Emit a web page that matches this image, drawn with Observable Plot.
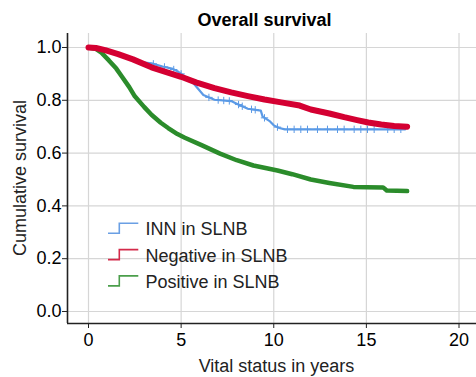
<!DOCTYPE html>
<html>
<head>
<meta charset="utf-8">
<script src="https://cdn.jsdelivr.net/npm/d3@7"></script>
<script src="https://cdn.jsdelivr.net/npm/@observablehq/plot@0.6"></script>
<style>
  html, body { margin: 0; padding: 0; background: #fff; }
</style>
</head>
<body>
<div id="chart"></div>
<script>
// ---- Data ----
const groups = ["INN in SLNB", "Negative in SLNB", "Positive in SLNB"];
const colors = ["#5b9ae6", "#d40032", "#2b8c2b"];
const legendColors = ["#6a9fe4", "#d42a4a", "#4b9e4b"];

const innTime = [0, 0.5, 1.2, 2.0, 2.8, 3.4, 4.0, 4.5, 4.8, 5.2, 5.7, 6.2, 6.8, 7.7, 8.0, 8.6, 9.3, 9.4, 9.8, 10.0, 10.3, 10.6, 17.1];
const innSurv = [1.0, 0.998, 0.983, 0.965, 0.945, 0.94, 0.928, 0.92, 0.91, 0.89, 0.862, 0.82, 0.802, 0.797, 0.787, 0.768, 0.761, 0.738, 0.72, 0.705, 0.695, 0.69, 0.69];
const innCensor = [3.5, 4.1, 4.6, 5.0, 6.5, 7.0, 7.3, 7.6, 8.1, 8.3, 8.8, 9.0, 9.5, 10.2, 10.74, 11.1, 11.46, 11.82, 12.36, 12.9, 13.44, 13.8, 14.34, 14.7, 15.06, 15.42, 16.15, 16.5, 16.86];

const negTime = [0, 0.4, 0.9, 1.6, 2.4, 3.4, 4.2, 5.0, 5.8, 6.8, 7.7, 8.6, 9.5, 10.4, 11.4, 12.0, 13.0, 13.8, 14.5, 15.1, 15.8, 16.5, 17.2];
const negSurv = [1.0, 0.998, 0.99, 0.975, 0.955, 0.925, 0.907, 0.889, 0.868, 0.846, 0.83, 0.816, 0.803, 0.792, 0.78, 0.765, 0.75, 0.736, 0.725, 0.716, 0.708, 0.703, 0.70];

const posTime = [0, 0.4, 0.7, 1.1, 1.5, 1.8, 2.2, 2.5, 3.0, 3.4, 3.9, 4.3, 4.8, 5.2, 6.1, 7.1, 8.0, 8.9, 10.2, 11.0, 12.0, 13.0, 14.3, 15.0, 15.9, 16.1, 17.2];
const posSurv = [1.0, 0.995, 0.98, 0.951, 0.92, 0.89, 0.85, 0.815, 0.775, 0.745, 0.715, 0.695, 0.672, 0.658, 0.63, 0.598, 0.573, 0.553, 0.534, 0.52, 0.50, 0.487, 0.472, 0.471, 0.47, 0.458, 0.456];

const xTicks = [0, 5, 10, 15, 20];
const yTicks = [0, 0.2, 0.4, 0.6, 0.8, 1.0];

const titleText = "Overall survival";
const xLabel = "Vital status in years";
const yLabel = "Cumulative survival";

// ---- Build tables ----
const toRows = (t, s, g) => t.map((d, i) => ({time: d, surv: s[i], group: g}));
const inn = toRows(innTime, innSurv, groups[0]);
const neg = toRows(negTime, negSurv, groups[1]);
const pos = toRows(posTime, posSurv, groups[2]);
const innInterp = d3.scaleLinear().domain(innTime).range(innSurv);
const innCens = innCensor.map(t => ({time: t, surv: innInterp(t)}));

const xDomain = [-1.134, 20.944];
const yDomain = [-0.0455, 1.053];
const font = "'Liberation Sans', Arial, Helvetica, sans-serif";

const chart = Plot.plot({
  width: 476,
  height: 377,
  marginLeft: 67,
  marginRight: 0,
  marginTop: 33,
  marginBottom: 54,
  style: {fontFamily: font, fontSize: "18px", background: "#fff", color: "#000"},
  x: {domain: xDomain, label: null},
  y: {domain: yDomain, label: null},
  marks: [
    Plot.gridX(xTicks, {stroke: "#d6d6d6", strokeOpacity: 1, strokeWidth: 1.2}),
    Plot.gridY(yTicks, {stroke: "#d6d6d6", strokeOpacity: 1, strokeWidth: 1.2}),
    Plot.axisX({ticks: xTicks, tickSize: 5, tickPadding: 5, tickFormat: d3.format("d"), label: null, stroke: "#222", fontSize: 18}),
    Plot.axisY({ticks: yTicks, tickSize: 5, tickPadding: 1, tickFormat: d3.format(".1f"), label: null, stroke: "#222", fontSize: 18}),
    Plot.ruleX([xDomain[0]], {stroke: "#222", strokeWidth: 1.6}),
    Plot.ruleY([yDomain[0]], {stroke: "#222", strokeWidth: 1.6}),
    Plot.line(inn, {x: "time", y: "surv", stroke: colors[0], strokeWidth: 2.2}),
    Plot.dot(innCens, {x: "time", y: "surv", symbol: "plus", r: 2.5, stroke: colors[0], strokeWidth: 1}),
    Plot.line(pos, {x: "time", y: "surv", stroke: colors[2], strokeWidth: 4.5}),
    Plot.line(neg, {x: "time", y: "surv", stroke: colors[1], strokeWidth: 6}),
    Plot.text([titleText], {text: d => d, frameAnchor: "top", lineAnchor: "middle", dx: -7.5, dy: -13, fontWeight: "bold", fontSize: 18, fill: "#000"}),
    Plot.text([xLabel], {text: d => d, frameAnchor: "bottom", lineAnchor: "middle", dx: 4.5, dy: 43, fontSize: 18, fill: "#222"})
  ]
});

const svg = d3.select(chart);

// ---- Y axis label ----
svg.append("text")
  .attr("transform", "translate(19.5,178) rotate(-90)")
  .attr("text-anchor", "middle")
  .attr("dy", "0.35em")
  .attr("font-family", font)
  .attr("font-size", 18)
  .attr("fill", "#222")
  .text(yLabel);

// ---- Legend (inside the plot area) ----
const lg = svg.append("g").attr("font-family", font).attr("font-size", 18).attr("text-anchor", "start");
groups.forEach((g, i) => {
  const cy = 229 + i * 26.3;
  lg.append("path")
    .attr("d", `M108,${cy + 4.3}H119.3V${cy - 5.7}H138.3`)
    .attr("fill", "none")
    .attr("stroke", legendColors[i])
    .attr("stroke-width", 1.6);
  lg.append("text")
    .attr("x", 145.5)
    .attr("y", cy)
    .attr("dy", "0.35em")
    .attr("text-anchor", "start")
    .attr("fill", "#222")
    .text(g);
});

document.getElementById("chart").appendChild(chart);
</script>
</body>
</html>
